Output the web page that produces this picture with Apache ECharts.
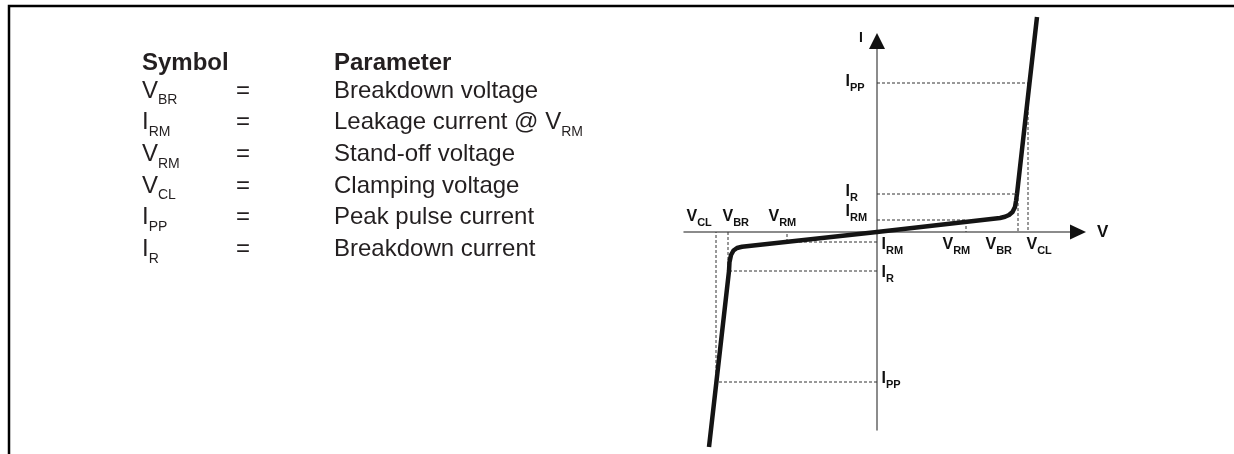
<!DOCTYPE html>
<html>
<head>
<meta charset="utf-8">
<script src="https://cdn.jsdelivr.net/npm/echarts@6/dist/echarts.min.js"></script>
<style>
  html, body { margin: 0; padding: 0; background: #fff; }
  #chart { width: 1234px; height: 454px; }
</style>
</head>
<body>
<div id="chart"></div>
<script>
// V-I characteristic of a bidirectional TVS (arbitrary units)
const curveV = [-16.8, -16.06, -14.8, -14.75, -14.6, -14.35, -14.0, -13.5, 0, 12.3, 12.8, 13.2, 13.55, 13.8, 13.9, 14.0, 15.25, 16.0];
const curveI = [-21.5, -15.0, -3.9, -3.0, -2.3, -1.85, -1.6, -1.48, 0, 1.4, 1.52, 1.7, 2.0, 2.5, 3.1, 3.8, 14.9, 21.5];

// marked points: reverse side first, then forward side
const voltSubs = ['RM', 'BR', 'CL', 'RM', 'BR', 'CL'];
const currSubs = ['RM', 'R', 'PP', 'RM', 'R', 'PP'];
const markV = [-9.0, -14.9, -16.1, 8.9, 14.1, 15.1];
const markI = [-1.0, -3.9, -15.0, 1.2, 3.8, 14.9];

// axis extents
const vRange = [-19.3, 20.1];
const iRange = [-19.8, 19.1];

// parameter table
const symMain = ['V', 'I', 'V', 'V', 'I', 'I'];
const symSub = ['BR', 'RM', 'RM', 'CL', 'PP', 'R'];
const paramText = ['Breakdown voltage', 'Leakage current @ V', 'Stand-off voltage', 'Clamping voltage', 'Peak pulse current', 'Breakdown current'];
const paramSub = ['', 'RM', '', '', '', ''];

const FONT = '"Liberation Sans", Arial, Helvetica, sans-serif';
const INK = '#231f20';

// label nudges (px) for the tick captions
const vLabelOffset = [[-18, -23], [-5, -23], [-29, -23], [-23, 5], [-32, 5], [-1, 5]];
const iLabelOffset = [[5, -5], [5, -6], [5, -11], [-31, -16], [-31, -10], [-31, -9]];

const measureCtx = document.createElement('canvas').getContext('2d');
function textWidth(str, font) {
  measureCtx.font = font;
  return measureCtx.measureText(str).width;
}

// table text as graphic elements (baseline -> middle: 0.3465 em)
function tableGraphics() {
  const out = [];
  const mid = (base, size) => base - 0.3465 * size;
  const head = 71.7;
  out.push({ type: 'text', x: 142, y: mid(head, 24), style: { text: 'Symbol', font: 'bold 24px ' + FONT, fill: INK, verticalAlign: 'middle' } });
  out.push({ type: 'text', x: 334, y: mid(head, 24), style: { text: 'Parameter', font: 'bold 24px ' + FONT, fill: INK, verticalAlign: 'middle' } });
  symMain.forEach((m, i) => {
    const base = 99.3 + 31.7 * i;
    const mainFont = '24px ' + FONT;
    out.push({ type: 'text', x: 142, y: mid(base, 24), style: { text: m, font: mainFont, fill: INK, verticalAlign: 'middle' } });
    out.push({ type: 'text', x: 142 + textWidth(m, mainFont), y: mid(base + 6, 14), style: { text: symSub[i], font: '14px ' + FONT, fill: INK, verticalAlign: 'middle' } });
    out.push({ type: 'text', x: 236, y: mid(base, 24), style: { text: '=', font: mainFont, fill: INK, verticalAlign: 'middle' } });
    out.push({ type: 'text', x: 334, y: mid(base, 24), style: { text: paramText[i], font: mainFont, fill: INK, verticalAlign: 'middle' } });
    if (paramSub[i]) {
      out.push({ type: 'text', x: 334 + textWidth(paramText[i], mainFont), y: mid(base + 6, 14), style: { text: paramSub[i], font: '14px ' + FONT, fill: INK, verticalAlign: 'middle' } });
    }
  });
  return out;
}

const capRich = {
  m: { fontSize: 16, fontWeight: 'bold', fontFamily: FONT, color: '#111', lineHeight: 16 },
  s: { fontSize: 11, fontWeight: 'bold', fontFamily: FONT, color: '#111', lineHeight: 11, padding: [13, 0, 0, 0] }
};

function guideSeries() {
  return markV.map((v, k) => ({
    type: 'line',
    data: [[0, markI[k]], [v, markI[k]], [v, 0]],
    showSymbol: false,
    silent: true,
    clip: false,
    z: 2,
    lineStyle: { color: '#333', width: 1, type: [3, 2] }
  }));
}

function captionSeries(points, offsets, formatter) {
  return {
    type: 'scatter',
    clip: false,
    z: 7,
    symbolSize: 1,
    itemStyle: { color: 'rgba(0,0,0,0)', opacity: 1 },
    label: { show: true, position: [0, 0], align: 'left', verticalAlign: 'top', color: '#111', rich: capRich },
    data: points.map((p, k) => ({
      value: p,
      label: { offset: offsets[k], formatter: formatter(k) }
    }))
  };
}

const chart = echarts.init(document.getElementById('chart'), null, { renderer: 'canvas' });

chart.setOption({
  animation: false,
  backgroundColor: '#fff',
  grid: { left: 684, right: 156, top: 41, bottom: 24, outerBoundsMode: 'none' },
  xAxis: {
    type: 'value',
    min: vRange[0],
    max: vRange[1],
    name: 'V',
    nameLocation: 'end',
    nameGap: 19,
    nameTextStyle: { fontSize: 17, fontWeight: 'bold', fontFamily: FONT, color: '#111' },
    axisLine: { onZero: true, lineStyle: { color: '#666', width: 1.5 } },
    axisTick: { show: false },
    axisLabel: { show: false },
    splitLine: { show: false }
  },
  yAxis: {
    type: 'value',
    min: iRange[0],
    max: iRange[1],
    name: 'I',
    nameLocation: 'end',
    nameGap: -4,
    nameTextStyle: { fontSize: 14, fontWeight: 'bold', fontFamily: FONT, color: '#111', align: 'right', verticalAlign: 'bottom', lineHeight: 14, padding: [0, 14, 0, 0] },
    axisLine: { onZero: true, lineStyle: { color: '#666', width: 1.5 } },
    axisTick: { show: false },
    axisLabel: { show: false },
    splitLine: { show: false }
  },
  graphic: [
    { type: 'polyline', shape: { points: [[9, 454], [9, 6], [1234, 6]] }, style: { stroke: '#000', lineWidth: 2.5, fill: null } },
    ...tableGraphics()
  ],
  series: [
    ...guideSeries(),
    {
      type: 'line',
      data: curveV.map((v, k) => [v, curveI[k]]),
      showSymbol: false,
      clip: false,
      z: 5,
      lineStyle: { color: '#141414', width: 4.5, join: 'round', cap: 'butt' }
    },
    {
      // axis arrow heads
      type: 'scatter',
      clip: false,
      z: 6,
      symbol: 'triangle',
      itemStyle: { color: '#111', opacity: 1 },
      data: [
        { value: [vRange[1], 0], symbolSize: [15, 16], symbolRotate: -90 },
        { value: [0, iRange[1]], symbolSize: [16, 16], symbolRotate: 0 }
      ]
    },
    captionSeries(markV.map((v) => [v, 0]), vLabelOffset, (k) => '{m|V}{s|' + voltSubs[k] + '}'),
    captionSeries(markI.map((c) => [0, c]), iLabelOffset, (k) => '{m|I}{s|' + currSubs[k] + '}')
  ]
});
</script>
</body>
</html>
